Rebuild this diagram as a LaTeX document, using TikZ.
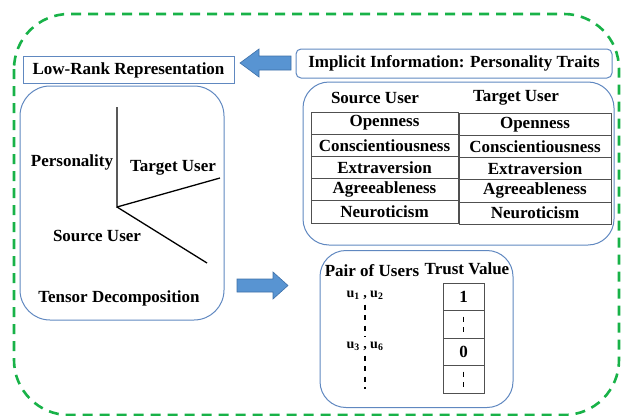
\documentclass[tikz,border=0pt]{standalone}
\usepackage{fontspec}
\setmainfont{Liberation Serif}[BoldFont={Liberation Serif Bold}, ItalicFont={Liberation Serif Italic}]
\definecolor{frameblue}{RGB}{96,136,192}
\definecolor{arrowfill}{RGB}{88,148,210}
\definecolor{arrowedge}{RGB}{62,112,168}
\definecolor{dashgreen}{RGB}{24,178,72}
\definecolor{gridgray}{RGB}{80,80,80}
\begin{document}
\begin{tikzpicture}[x=1pt,y=-1pt,
  txt/.style={font=\bfseries\fontsize{17}{19}\selectfont, inner sep=0pt},
  smalltxt/.style={font=\bfseries\fontsize{14}{16}\selectfont, inner sep=0pt},
  panel/.style={draw=frameblue, line width=1pt, inner sep=0pt},
  cell/.style={draw=gridgray, line width=0.7pt, inner sep=0pt, minimum height=22.2pt,
    font=\bfseries\fontsize{17}{19}\selectfont},
  tcell/.style={draw=gridgray, line width=0.7pt, inner sep=0pt, minimum width=41pt,
    minimum height=27.5pt, font=\bfseries\fontsize{17}{19}\selectfont},
  blockarrow/.style={fill=arrowfill, draw=arrowedge, line width=0.6pt},
  axis/.style={line width=1.3pt, black},
  ellipsis/.style={line width=1.4pt, dash pattern=on 5pt off 5.5pt}]
\useasboundingbox (0,0) rectangle (621,415);

% outer dashed frame
\begin{scope}
  \clip (0,0) rectangle (621,415);
  \draw[dashgreen, line width=2.6pt, dash pattern=on 10pt off 7pt, rounded corners=55pt]
    (14,14) rectangle (619,415);
\end{scope}

% top row
\node[panel, minimum width=211pt, minimum height=27pt, txt] (lowrank) at (128.5,70)
  {Low-Rank Representation};
\node[panel, rounded corners=5pt, minimum width=316pt, minimum height=29pt, txt] (implicit)
  at (454,63.5) {Implicit Information: Personality Traits};
\draw[blockarrow] (240,63) -- (259,49) -- (259,56) -- (291,56) -- (291,70)
  -- (259,70) -- (259,77) -- cycle;

% tensor panel with three axes
\node[panel, rounded corners=30pt, minimum width=204pt, minimum height=234pt] (tensor)
  at (122,203) {};
\coordinate (o) at (117,207);
\coordinate (ptop) at (117,107);
\coordinate (tend) at (220,178);
\coordinate (send) at (207,263);
\draw[axis] (ptop) -- (o) -- (tend);
\draw[axis] (o) -- (send);
\node[txt] (personality) at (72,162) {Personality};
\node[txt] (targetaxis) at (173,168) {Target User};
\node[txt] (sourceaxis) at (97,236) {Source User};
\node[txt] (tensorlbl) at (119,298) {Tensor Decomposition};

% personality traits panel
\node[panel, rounded corners=26pt, minimum width=311pt, minimum height=163pt] (traits)
  at (458.5,163.5) {};
\node[txt] (srchead) at (375,98) {Source User};
\node[txt] (tgthead) at (516,98) {Target User};
\foreach \t [count=\i from 0] in {Openness,Conscientiousness,Extraversion,Agreeableness,Neuroticism} {
  \node[cell, minimum width=147pt] (src\i) at (384.5,{123.1+22.2*\i}) {\t};
  \node[cell, minimum width=152pt] (tgt\i) at (535,{124.3+22.2*\i}) {\t};
}

% arrow down to the trust panel
\draw[blockarrow] (237,279) -- (273,279) -- (273,272) -- (288,285.5) -- (273,299)
  -- (273,292) -- (237,292) -- cycle;

% trust panel
\node[panel, rounded corners=26pt, minimum width=193pt, minimum height=157pt] (trust)
  at (416.5,329) {};
\node[txt] (pairhead) at (372,271) {Pair of Users};
\node[txt] (trusthead) at (467,269) {Trust Value};
\node[smalltxt] (p1) at (365,295) {u\textsubscript{1} , u\textsubscript{2}};
\node[smalltxt] (p2) at (365,346) {u\textsubscript{3} , u\textsubscript{6}};
\coordinate (d1) at (365,389);
\draw[ellipsis] ([yshift=-5pt]p1.south) -- ([yshift=5pt]p2.north);
\draw[ellipsis] ([yshift=-5pt]p2.south) -- (d1);
\node[tcell] (t0) at (463.5,297) {1};
\node[tcell] (t1) at (463.5,324.5) {};
\node[tcell] (t2) at (463.5,352) {0};
\node[tcell] (t3) at (463.5,379.5) {};
\draw[ellipsis] ([yshift=8pt]t1.center) -- ([yshift=-8pt]t1.center);
\draw[ellipsis] ([yshift=8pt]t3.center) -- ([yshift=-8pt]t3.center);
\end{tikzpicture}
\end{document}
